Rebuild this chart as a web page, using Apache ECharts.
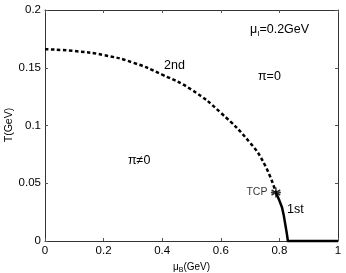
<!DOCTYPE html>
<html>
<head>
<meta charset="UTF-8">
<title>phase diagram</title>
<script src="https://cdn.jsdelivr.net/npm/echarts@6/dist/echarts.min.js"></script>
<style>
  html, body { margin: 0; padding: 0; background: #fff; }
  #main { width: 346px; height: 273px; }
</style>
</head>
<body>
<div id="main"></div>
<script>
// 2nd order line (dashed), mu_B vs T
var muSecond = [0, 0.1, 0.2, 0.3, 0.4, 0.5, 0.6, 0.7, 0.75, 0.788];
var tSecond  = [0.166, 0.1645, 0.161, 0.1545, 0.144, 0.131, 0.111, 0.085, 0.066, 0.042];
// 1st order line (solid) and T = 0 segment
var muFirst = [0.788, 0.80, 0.809, 0.815, 0.819, 0.825, 0.829, 1.0];
var tFirst  = [0.042, 0.035, 0.029, 0.022, 0.016, 0.007, 0, 0];
// tricritical point
var tcp = [0.788, 0.042];
var xTicks = [0, 0.2, 0.4, 0.6, 0.8, 1];
var yTicks = [0, 0.05, 0.1, 0.15, 0.2];

function pairs(xs, ys) {
  var out = [];
  for (var i = 0; i < xs.length; i++) out.push([xs[i], ys[i]]);
  return out;
}

var font = 'Liberation Sans, Arial, sans-serif';
var chart = echarts.init(document.getElementById('main'));

var axisBase = {
  type: 'value',
  axisLine: { show: true, onZero: false, lineStyle: { color: '#333', width: 1 } },
  axisTick: { show: true, inside: true, length: 3, lineStyle: { color: '#555' } },
  splitLine: { show: false }
};

chart.setOption({
  animation: false,
  grid: { left: 45, right: 8, top: 10, bottom: 32, containLabel: false, outerBoundsMode: 'none' },
  xAxis: [
    Object.assign({}, axisBase, {
      min: 0, max: 1, interval: 0.2, position: 'bottom',
      axisLabel: { color: '#000', fontSize: 11.5, fontFamily: font, margin: 4 },
      name: '{m|μ}{s|B}{m|(GeV)}', nameLocation: 'middle', nameGap: 18,
      nameTextStyle: { rich: {
        m: { fontSize: 10, fontFamily: font, color: '#000' },
        s: { fontSize: 7, fontFamily: font, color: '#000', verticalAlign: 'bottom', padding: [6, 0, 0, 0] }
      } }
    }),
    Object.assign({}, axisBase, {
      min: 0, max: 1, interval: 0.2, position: 'top', axisLabel: { show: false }
    })
  ],
  yAxis: [
    Object.assign({}, axisBase, {
      min: 0, max: 0.2, interval: 0.05, position: 'left',
      axisLabel: { color: '#000', fontSize: 11.5, fontFamily: font, margin: 4 }
    }),
    Object.assign({}, axisBase, {
      min: 0, max: 0.2, interval: 0.05, position: 'right', axisLabel: { show: false }
    })
  ],
  series: [
    {
      type: 'line', name: '2nd', data: pairs(muSecond, tSecond), smooth: true,
      showSymbol: false, clip: false,
      lineStyle: { color: '#000', width: 2.5, type: [3.5, 2.5] }
    },
    {
      type: 'line', name: '1st', data: pairs(muFirst, tFirst), smooth: false,
      showSymbol: false, clip: false,
      lineStyle: { color: '#000', width: 2.5, join: 'round' }
    },
    {
      type: 'scatter', name: 'TCP', data: [tcp],
      symbol: 'path://M0,-10L0,10M-8.66,-5L8.66,5M-8.66,5L8.66,-5M-10,0L10,0',
      symbolSize: 10,
      itemStyle: { color: 'none', borderColor: '#000', borderWidth: 1.5 },
      label: { show: true, position: 'left', distance: 1, formatter: 'TCP',
        color: '#000', fontSize: 10.5, fontFamily: font }
    }
  ],
  graphic: [
    // y axis title
    { type: 'text', x: 9, y: 125, rotation: Math.PI / 2, style: {
      text: 'T(GeV)', fontSize: 10.5, fontFamily: font, fill: '#000', align: 'center', verticalAlign: 'middle' } },
    { type: 'text', left: 250, top: 23, style: {
      text: '{m|μ}{s|I}{m|=0.2GeV}', rich: {
        m: { fontSize: 12.5, fontFamily: font, fill: '#000' },
        s: { fontSize: 8, fontFamily: font, fill: '#000', padding: [8, 0, 0, 0] }
      } } },
    { type: 'text', left: 258, top: 70, style: { text: 'π=0', fontSize: 12.5, fontFamily: font, fill: '#000' } },
    { type: 'text', left: 128, top: 154, style: { text: 'π≠0', fontSize: 12.5, fontFamily: font, fill: '#000' } },
    { type: 'text', left: 164, top: 59, style: { text: '2nd', fontSize: 12.5, fontFamily: font, fill: '#000' } },
    { type: 'text', left: 287, top: 203, style: { text: '1st', fontSize: 12.5, fontFamily: font, fill: '#000' } }
  ]
});
</script>
</body>
</html>
